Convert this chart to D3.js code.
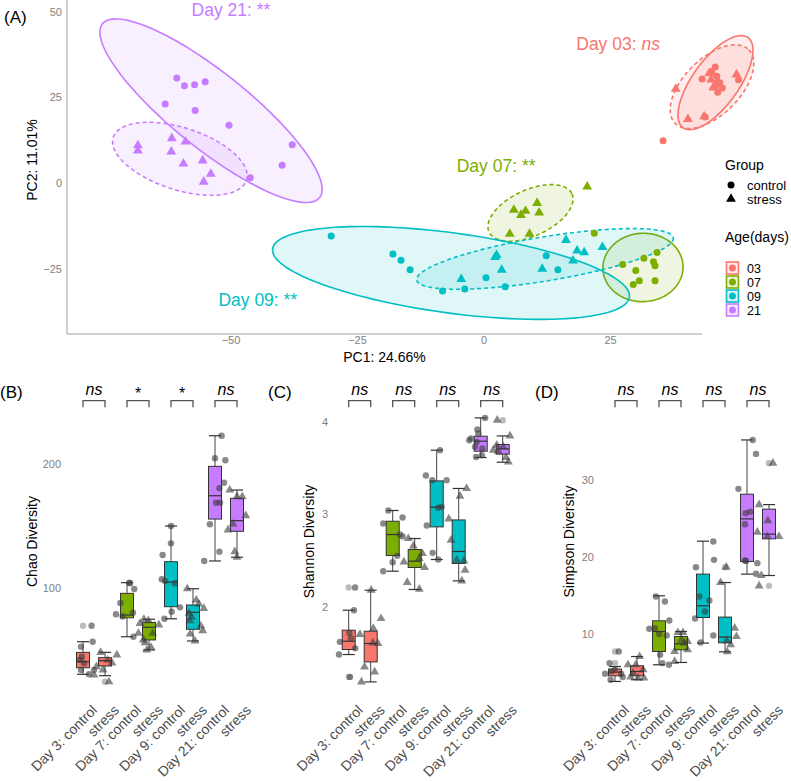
<!DOCTYPE html>
<html><head><meta charset="utf-8">
<script src="https://cdn.jsdelivr.net/npm/d3@7"></script>
<style>body{margin:0;background:#fff} svg{display:block;font-family:"Liberation Sans",Arial,sans-serif}</style>
</head><body><svg id="c" width="791" height="781"></svg>
<script>
// ---------------- DATA ----------------
const ages = ["03","07","09","21"];
const ageColors = ["#F8766D","#7CAE00","#00BFC4","#C77CFF"];
const pcaXTicks = [-50,-25,0,25];
const pcaYTicks = [-25,0,25,50];
// PCA scores [PC1, PC2]
const pca03Control = [[45.7,33.8],[45.0,32.5],[43.1,30.3],[46.0,31.1],[46.6,29.2],[45.7,28.2],[47.1,27.7],[46.2,26.4],[43.7,19.2],[35.4,12.3],[50.3,30.1]];
const pca03Stress  = [[49.9,31.6],[44.9,30.1],[37.9,27.4],[40.3,18.6],[43.5,19.4],[46.2,29.5],[45.3,27.8],[44.5,31.9]];
const pca07Control = [[21.8,-14.7],[27.4,-23.8],[31.6,-22.0],[34.2,-20.3],[33.5,-23.0],[33.8,-24.2],[30.0,-25.6],[30.7,-28.6],[29.5,-29.7],[33.8,-28.6]];
const pca07Stress  = [[20.4,-1.1],[10.5,-5.9],[5.9,-7.9],[8.2,-8.2],[7.3,-9.4],[10.9,-8.7],[5.1,-14.9],[9.0,-14.9]];
const pca09Control = [[-30.2,-15.5],[-18.0,-20.8],[-16.4,-22.6],[-14.6,-25.4],[-8.2,-31.6],[-3.8,-31.0],[0.4,-27.7],[4.2,-30.3],[12.3,-21.3],[14.6,-25.4]];
const pca09Stress  = [[16.2,-16.7],[18.4,-19.8],[19.8,-20.3],[23.4,-18.8],[17.6,-22.7],[11.5,-25.1],[3.5,-25.4],[2.5,-21.1],[2.2,-21.7],[-4.5,-28.1]];
const pca21Control = [[-60.7,30.6],[-59.2,28.3],[-57.2,28.6],[-55.1,29.5],[-63.0,23.0],[-57.1,21.1],[-50.4,16.8],[-37.9,11.1],[-39.9,5.1],[-46.2,1.5]];
const pca21Stress  = [[-68.4,10.9],[-68.4,9.4],[-61.7,13.0],[-59.0,12.0],[-61.8,9.1],[-59.4,5.6],[-55.6,6.5],[-54.0,2.6],[-55.4,0.3]];
// ellipses: [centerPC1, centerPC2, axis1 PC1, axis1 PC2, axis2 PC1, axis2 PC2]
const ellipseControl = [[45.75,29.24,6.42,13.16,3.69,-3.94],[31.42,-24.7,7.9,0.88,0.59,-9.94],[-6.52,-26.3,35.26,-7.05,-1.06,-11.58],[-53.95,21.05,21.46,-25.35,4.68,8.68]];
const ellipseStress  = [[45.06,28.07,7.27,10.76,3.91,-5.79],[9.19,-8.77,8.2,5.56,1.89,-6.11],[12.06,-22.2,25.36,6.17,0.70,-6.35],[-60.1,7.02,13.17,-6.26,1.88,8.63]];
const pcaLabels = [["Day 03: ","ns",26.5,40.4],["Day 07: ","**",2.4,5.0],["Day 09: ","**",-44.7,-34.2],["Day 21: ","**",-50.0,50.3]];

const boxGroups = ["Day 3: control","stress","Day 7: control","stress","Day 9: control","stress","Day 21: control","stress"];
// [lower whisker, Q1, median, Q3, upper whisker]
const chaoBox = [[30.4,35.7,40.6,48.1,56.7],[29.3,37.1,41.4,43.8,48.1],[60.7,76.0,78.2,95.7,104.3],[50.0,58.1,68.3,72.3,74.8],[75.2,84.9,104.8,121.2,150.0],[57.3,66.7,80.4,86.3,99.4],[121.8,155.6,174.4,198.1,222.8],[124.8,145.7,154.3,172.3,179.0]];
// [jitter, value]
const chaoPoints = [
 [[0.39,69.6],[0.44,56.7],[-0.09,52.7],[-0.05,44.6],[0.05,39.3],[-0.09,33.9],[0.27,30.4],[0.5,33.9],[-0.14,42]],
 [[-0.2,48.1],[0.54,46],[0.12,41.9],[-0.39,36.5],[-0.5,29.8],[0.18,24.4],[0.32,39.5],[-0.09,33.9]],
 [[0.14,103.8],[0.33,99.2],[-0.3,88],[-0.5,78.8],[-0.2,77],[0.27,80.1],[0.29,60.7],[0.1,104.3]],
 [[-0.41,71.5],[-0.23,74.8],[-0.03,73.6],[0.17,63.5],[0.45,70.2],[-0.48,63.5],[-0.26,58.1],[-0.18,55.9],[0.09,52.2],[-0.1,50]],
 [[0,150],[0,136],[-0.38,126.6],[-0.42,107],[-0.27,105.6],[0.18,103.8],[0.03,80.9],[-0.3,75.2],[0.41,84.4]],
 [[-0.26,99.4],[0.15,90.3],[0.26,87.1],[0.49,83.6],[-0.18,79.6],[-0.07,76.4],[-0.15,73.6],[-0.13,62.9],[0.44,65.6],[0.09,57.3],[0.35,69.4]],
 [[0.3,222.8],[0,204.6],[0.47,203],[0.41,184.9],[0.2,180.4],[0.05,168.8],[0.23,168.8],[-0.23,151.4],[0.2,129.3],[-0.49,121.8]],
 [[-0.33,179],[0,173.6],[0.24,173.6],[0.4,158.3],[-0.18,151.6],[-0.41,146.8],[-0.1,129.3],[0,124.8]]];
const shannonBox = [[1.483,1.537,1.627,1.746,1.962],[1.187,1.403,1.602,1.735,2.178],[2.384,2.553,2.78,2.924,3.04],[2.186,2.424,2.492,2.618,2.737],[2.51,2.863,3.076,3.36,3.692],[2.279,2.467,2.597,2.938,3.278],[3.613,3.681,3.789,3.843,4.041],[3.562,3.649,3.706,3.753,3.846]];
const shannonPoints = [
 [[0.29,2.208],[0.24,1.962],[0.03,1.717],[-0.4,1.62],[-0.44,1.483],[0.06,1.241],[0.1,1.66],[0.3,1.55]],
 [[0.47,1.872],[0.12,1.765],[-0.49,1.7],[-0.28,1.349],[0.18,1.295],[-0.42,1.187],[0.1,1.609],[0.33,1.602],[0.02,2.178]],
 [[-0.2,3.04],[0.45,2.964],[-0.43,2.9],[0.33,2.78],[0.45,2.76],[0,2.481],[-0.43,2.384],[0.2,2.55]],
 [[-0.29,2.737],[-0.06,2.657],[-0.49,2.484],[0.21,2.521],[0.45,2.424],[-0.34,2.262],[0.21,2.189],[0.35,2.575]],
 [[-0.49,3.418],[-0.2,3.368],[0.45,3.368],[0.23,3.079],[0.07,3.07],[-0.45,2.878],[-0.18,2.582],[0.07,2.51],[0.15,3.692]],
 [[0.36,3.278],[0.06,3.195],[-0.45,2.949],[-0.35,2.719],[-0.09,2.503],[0.24,2.495],[0.29,2.395],[0.14,2.279]],
 [[0.2,4.041],[-0.15,3.916],[-0.44,3.818],[-0.52,3.8],[-0.18,3.78],[0.07,3.71],[-0.21,3.619],[0.05,3.638],[-0.11,3.872],[-0.26,3.728]],
 [[-0.25,4.016],[0.33,3.846],[-0.43,3.692],[-0.2,3.681],[0.15,3.613],[0.26,3.565],[0.03,3.728],[-0.27,3.746]]];
const simpsonBox = [[3.89,4.62,5.1,5.49,5.83],[4.11,4.62,5.18,5.92,7.12],[6.05,7.77,10.36,11.75,14.99],[6.35,7.99,8.77,9.72,10.36],[8.86,12.18,13.69,17.8,22.07],[7.73,8.9,9.64,12.23,16.71],[17.8,19.43,24.96,28.16,35.19],[17.62,22.37,22.98,26.22,26.81]];
const simpsonPoints = [
 [[0.17,7.77],[-0.25,6.27],[0,5.49],[0.28,4.88],[-0.2,4.11],[0.35,4.46],[-0.45,4.9],[-0.15,5.2]],
 [[0.12,7.12],[-0.06,6.05],[0.28,5.4],[-0.41,6.05],[-0.18,4.97],[0.05,4.33],[0.32,4.33],[-0.29,4.46]],
 [[-0.14,14.9],[0.27,14.25],[0.47,11.79],[-0.44,10.71],[0.01,10.03],[0.35,9.85],[-0.19,10.8],[0.05,7.34],[0.45,6.05],[0.15,6.27]],
 [[-0.14,10.23],[0.09,10.23],[0.02,9.28],[0.14,8.86],[0.3,9.07],[-0.29,7.77],[0.3,7.99],[-0.29,6.48]],
 [[0.47,22.02],[-0.32,18.7],[0.5,19.65],[-0.17,14.9],[0.29,14.38],[0.09,12.95],[-0.36,12.05],[0.47,9.84],[-0.11,8.94]],
 [[0.06,18.7],[-0.2,16.71],[0.44,10.8],[0.52,9.71],[0.08,9.16],[0.26,8.64],[0.1,7.73]],
 [[0.26,35.19],[0.41,33.38],[-0.39,28.85],[0.14,25.9],[-0.06,25.7],[-0.09,24.27],[-0.09,19.56],[0.47,19.22],[0.41,17.84],[-0.05,19.5]],
 [[0.18,32.18],[-0.45,26.81],[-0.05,24.74],[-0.53,23.24],[-0.07,22.67],[0.45,22.67],[-0.35,17.62],[-0.45,16.28]]];
const chaoSig = ["ns","*","*","ns"];
const shannonSig = ["ns","ns","ns","ns"];
const simpsonSig = ["ns","ns","ns","ns"];
const chaoTicks = [100,200];
const shannonTicks = [2,3,4];
const simpsonTicks = [10,20,30];

// ---------------- DRAW ----------------
const svg = d3.select("#c");
const tickGray = "#7f7f7f";
const fmt = t => t < 0 ? "\u2212" + Math.abs(t) : String(t);

// ===== Panel A =====
const pcaX = d3.scaleLinear().domain([-50,25]).range([231,610.5]);
const pcaY = d3.scaleLinear().domain([-25,50]).range([268.5,11.5]);
const gA = svg.append("g");
gA.append("line").attr("x1",67).attr("x2",67).attr("y1",0).attr("y2",334).attr("stroke","#a0a0a0");
gA.append("line").attr("x1",67).attr("x2",702).attr("y1",334).attr("y2",334).attr("stroke","#a0a0a0");
pcaXTicks.forEach(t => gA.append("text").attr("x",pcaX(t)).attr("y",344).attr("text-anchor","middle")
  .attr("font-size",11).attr("fill",tickGray).text(fmt(t)));
pcaYTicks.forEach(t => gA.append("text").attr("x",62).attr("y",pcaY(t)+4).attr("text-anchor","end")
  .attr("font-size",11).attr("fill",tickGray).text(fmt(t)));
gA.append("text").attr("x",384.5).attr("y",362).attr("text-anchor","middle").attr("font-size",14).text("PC1: 24.66%");
gA.append("text").attr("transform","translate(37,160) rotate(-90)").attr("text-anchor","middle").attr("font-size",14).text("PC2: 11.01%");
gA.append("text").attr("x",4).attr("y",23).attr("font-size",17).text("(A)");

function ellipsePath(e){
  const [cx,cy,ax,ay,bx,by] = e;
  const pts = d3.range(0,121).map(i => { const t = i/120*2*Math.PI;
    return [pcaX(cx+ax*Math.cos(t)+bx*Math.sin(t)), pcaY(cy+ay*Math.cos(t)+by*Math.sin(t))]; });
  return d3.line()(pts) + "Z";
}
ages.forEach((a,i) => {
  gA.append("path").attr("d",ellipsePath(ellipseControl[i])).attr("fill",ageColors[i]).attr("fill-opacity",0.12)
    .attr("stroke",ageColors[i]).attr("stroke-width",1.6);
  gA.append("path").attr("d",ellipsePath(ellipseStress[i])).attr("fill",ageColors[i]).attr("fill-opacity",0.12)
    .attr("stroke",ageColors[i]).attr("stroke-width",1.6).attr("stroke-dasharray","4,3");
});
const pcaCtrl = [pca03Control,pca07Control,pca09Control,pca21Control];
const pcaStr = [pca03Stress,pca07Stress,pca09Stress,pca21Stress];
const triA = d3.symbol().type(d3.symbolTriangle).size(42)();
ages.forEach((a,i) => {
  pcaCtrl[i].forEach(p => gA.append("circle").attr("cx",pcaX(p[0])).attr("cy",pcaY(p[1])).attr("r",3.5).attr("fill",ageColors[i]));
  pcaStr[i].forEach(p => gA.append("path").attr("d",triA).attr("transform",`translate(${pcaX(p[0])},${pcaY(p[1])})`).attr("fill",ageColors[i]));
});
pcaLabels.forEach(l => {
  const i = ages.indexOf(l[0].slice(4,6));
  const t = gA.append("text").attr("x",pcaX(l[2])).attr("y",pcaY(l[3])+6).attr("text-anchor","middle")
    .attr("font-size",17.5).attr("fill",ageColors[i]);
  t.append("tspan").text(l[0]);
  t.append("tspan").attr("font-style", l[1]==="ns" ? "italic" : "normal").text(l[1]);
});
// legend
const gL = svg.append("g");
gL.append("text").attr("x",725).attr("y",170).attr("font-size",14).text("Group");
gL.append("circle").attr("cx",731).attr("cy",185).attr("r",3.5).attr("fill","#000");
gL.append("text").attr("x",747).attr("y",189.5).attr("font-size",13).text("control");
gL.append("path").attr("d",d3.symbol().type(d3.symbolTriangle).size(42)()).attr("transform","translate(731,199)").attr("fill","#000");
gL.append("text").attr("x",747).attr("y",203.5).attr("font-size",13).text("stress");
gL.append("text").attr("x",725).attr("y",242).attr("font-size",14).text("Age(days)");
ages.forEach((a,i) => {
  const cy = 268 + i*14;
  gL.append("rect").attr("x",726.5).attr("y",cy-6).attr("width",12).attr("height",12)
    .attr("fill",ageColors[i]).attr("fill-opacity",0.15).attr("stroke",ageColors[i]).attr("stroke-width",1.6);
  gL.append("circle").attr("cx",732.5).attr("cy",cy).attr("r",3.5).attr("fill",ageColors[i]);
  gL.append("text").attr("x",747).attr("y",cy+4.5).attr("font-size",12.5).text(a);
});

// ===== Box panels =====
function boxPanel(opt){
  const g = svg.append("g");
  const x = d3.scalePoint().domain(d3.range(8)).range(opt.xr);
  const step = x.step();
  const y = d3.scaleLinear().domain(opt.yd).range(opt.yr);
  const bw = 13, cw = 12;
  g.append("text").attr("x",opt.lab[0]).attr("y",398).attr("font-size",17).text(opt.label);
  opt.ticks.forEach(t => g.append("text").attr("x",opt.tickX).attr("y",y(t)+4).attr("text-anchor","end")
    .attr("font-size",11).attr("fill",tickGray).text(t));
  g.append("text").attr("transform",`translate(${opt.titleX},541.5) rotate(-90)`).attr("text-anchor","middle")
    .attr("font-size",14).text(opt.title);
  // brackets
  opt.sig.forEach((s,k) => {
    const x1 = x(2*k), x2 = x(2*k+1);
    g.append("path").attr("d",`M${x1},407.3V400.7H${x2}V407.3`).attr("fill","none").attr("stroke","#555").attr("stroke-width",1.3);
    g.append("text").attr("x",(x1+x2)/2).attr("y", s==="ns" ? 395 : 399).attr("text-anchor","middle")
      .attr("font-size",16).attr("font-style", s==="ns" ? "italic" : "normal").text(s);
  });
  // boxes
  opt.box.forEach((b,i) => {
    const cx = x(i), col = ageColors[Math.floor(i/2)];
    const [mn,q1,md,q3,mx] = b;
    g.append("line").attr("x1",cx).attr("x2",cx).attr("y1",y(mx)).attr("y2",y(q3)).attr("stroke","#444");
    g.append("line").attr("x1",cx).attr("x2",cx).attr("y1",y(q1)).attr("y2",y(mn)).attr("stroke","#444");
    [mn,mx].forEach(v => g.append("line").attr("x1",cx-cw/2).attr("x2",cx+cw/2).attr("y1",y(v)).attr("y2",y(v)).attr("stroke","#333").attr("stroke-width",1.2));
    g.append("rect").attr("x",cx-bw/2).attr("y",y(q3)).attr("width",bw).attr("height",y(q1)-y(q3))
      .attr("fill",col).attr("stroke","#333").attr("stroke-width",1);
    g.append("line").attr("x1",cx-bw/2).attr("x2",cx+bw/2).attr("y1",y(md)).attr("y2",y(md)).attr("stroke","#333").attr("stroke-width",1.2);
    // outliers (boxplot layer)
    const eps = (mx-mn)*0.01;
    opt.pts[i].filter(p => p[1] > mx+eps || p[1] < mn-eps).forEach(p =>
      g.append("circle").attr("cx",cx).attr("cy",y(p[1])).attr("r",3.2).attr("fill","#bdbdbd"));
  });
  // jittered points
  const tri = d3.symbol().type(d3.symbolTriangle).size(34)();
  opt.pts.forEach((ps,i) => {
    const cx = x(i);
    ps.forEach(p => {
      const px = cx + p[0]*step, py = y(p[1]);
      if (i % 2 === 0) g.append("circle").attr("cx",px).attr("cy",py).attr("r",3.2).attr("fill","#3a3a3a").attr("fill-opacity",0.6);
      else g.append("path").attr("d",tri).attr("transform",`translate(${px},${py})`).attr("fill","#3a3a3a").attr("fill-opacity",0.6);
    });
  });
  // x labels
  boxGroups.forEach((lab,i) => g.append("text").attr("transform",`translate(${x(i)+15},711) rotate(-45)`)
    .attr("text-anchor","end").attr("font-size",14).attr("fill","#4d4d4d").text(lab));
}
boxPanel({label:"(B)", lab:[0], xr:[83,237], yd:[100,200], yr:[588,464], ticks:chaoTicks, tickX:61, titleX:37, title:"Chao Diversity", sig:chaoSig, box:chaoBox, pts:chaoPoints});
boxPanel({label:"(C)", lab:[268], xr:[348.7,502.7], yd:[2,4], yr:[606.7,421.7], ticks:shannonTicks, tickX:328, titleX:314, title:"Shannon Diversity", sig:shannonSig, box:shannonBox, pts:shannonPoints});
boxPanel({label:"(D)", lab:[535], xr:[615,769], yd:[10,30], yr:[634.3,480], ticks:simpsonTicks, tickX:594, titleX:574, title:"Simpson Diversity", sig:simpsonSig, box:simpsonBox, pts:simpsonPoints});
</script></body></html>
